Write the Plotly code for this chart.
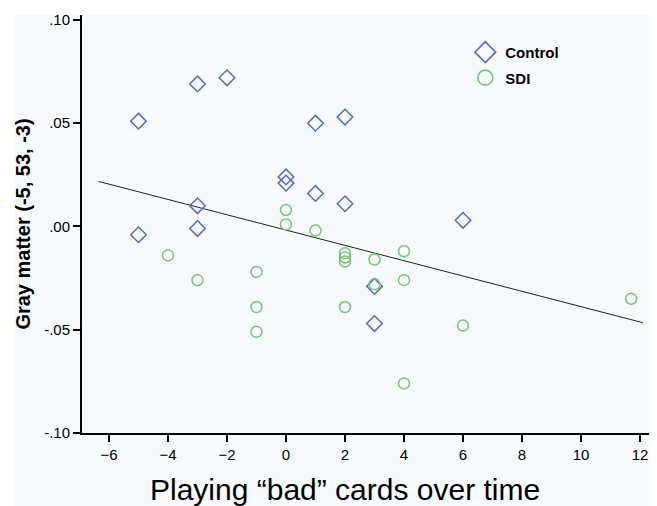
import plotly.graph_objects as go

# Control group (diamonds)
control_x = [-5, -5, -3, -3, -3, -2, 0, 0, 1, 1, 2, 2, 6, 3, 3]
control_y = [0.051, -0.004, 0.069, 0.010, -0.001, 0.072, 0.024, 0.021,
             0.050, 0.016, 0.053, 0.011, 0.003, -0.029, -0.047]

# SDI group (circles)
sdi_x = [0, 0, 1, -4, -3, -1, -1, -1, 2, 2, 2, 3, 4, 4, 2, 3, 6, 4, 11.7]
sdi_y = [0.008, 0.001, -0.002, -0.014, -0.026, -0.022, -0.039, -0.051,
         -0.013, -0.015, -0.017, -0.016, -0.012, -0.026, -0.039, -0.028,
         -0.048, -0.076, -0.035]

# Fit line endpoints
fit_x = [-6.35, 12.1]
fit_y = [0.0218, -0.0466]

x_ticks = [-6, -4, -2, 0, 2, 4, 6, 8, 10, 12]
y_ticks = [-0.10, -0.05, 0.00, 0.05, 0.10]
y_tick_labels = ["-.10", "-.05", ".00", ".05", ".10"]

x_title = "Playing “bad” cards over time"
y_title = "Gray matter (-5, 53, -3)"

blue = "#5a6db8"
green = "#7dc27a"

fig = go.Figure()
fig.add_trace(go.Scatter(x=fit_x, y=fit_y, mode="lines",
                         line=dict(color="#222222", width=1), showlegend=False,
                         hoverinfo="skip"))
fig.add_trace(go.Scatter(x=control_x, y=control_y, mode="markers",
                         marker=dict(symbol="diamond-open", size=12, color=blue,
                                     line=dict(width=1.5, color=blue)),
                         showlegend=False))
fig.add_trace(go.Scatter(x=sdi_x, y=sdi_y, mode="markers",
                         marker=dict(symbol="circle-open", size=11, color=green,
                                     line=dict(width=1.5, color=green)),
                         showlegend=False))
# legend entries (larger markers)
fig.add_trace(go.Scatter(x=[None], y=[None], mode="markers", name="Control",
                         legendgroup="control",
                         marker=dict(symbol="diamond-open", size=18, color=blue,
                                     line=dict(width=1.6, color=blue))))
fig.add_trace(go.Scatter(x=[None], y=[None], mode="markers", name="SDI",
                         legendgroup="sdi",
                         marker=dict(symbol="circle-open", size=15, color=green,
                                     line=dict(width=1.6, color=green))))

fig.add_shape(type="rect", xref="paper", yref="paper",
              x0=-0.118, x1=1.0, y0=-0.175, y1=1.0,
              fillcolor="#f6fafd", line=dict(width=0), layer="below")

fig.add_annotation(text=x_title, xref="paper", yref="paper",
                   x=0.464, y=-0.134, xanchor="center", yanchor="middle",
                   showarrow=False, font=dict(size=30, color="black"))

fig.update_layout(
    width=641, height=498,
    margin=dict(l=74, r=0, t=7, b=73),
    paper_bgcolor="white",
    plot_bgcolor="#f6fafd",
    font=dict(family="Liberation Sans, Arial, sans-serif", color="black"),
    legend=dict(x=0.676, y=0.95, xanchor="left", yanchor="top",
                bgcolor="rgba(0,0,0,0)", tracegroupgap=3, itemwidth=30,
                font=dict(family="Liberation Sans Narrow, Liberation Sans, Arial", size=15,
                          weight="bold", color="black")),
    xaxis=dict(range=[-6.915, 12.305], tickvals=x_ticks, automargin=False,
               ticklabeloverflow="allow",
               showgrid=False, zeroline=False, showline=True,
               linecolor="black", linewidth=2, ticks="outside",
               ticklen=7, tickwidth=1.5, tickcolor="black",
               tickfont=dict(size=15, color="black")),
    yaxis=dict(range=[-0.10, 0.1024], tickvals=y_ticks, ticktext=y_tick_labels,
               automargin=False,
               showgrid=False, zeroline=False, showline=True,
               linecolor="black", linewidth=2, ticks="outside",
               ticklen=7, tickwidth=1.5, tickcolor="black",
               tickfont=dict(size=15, color="black"),
               title=dict(text="<b>" + y_title + "</b>",
                          font=dict(size=20), standoff=8)),
)

fig.write_html("out.html")
